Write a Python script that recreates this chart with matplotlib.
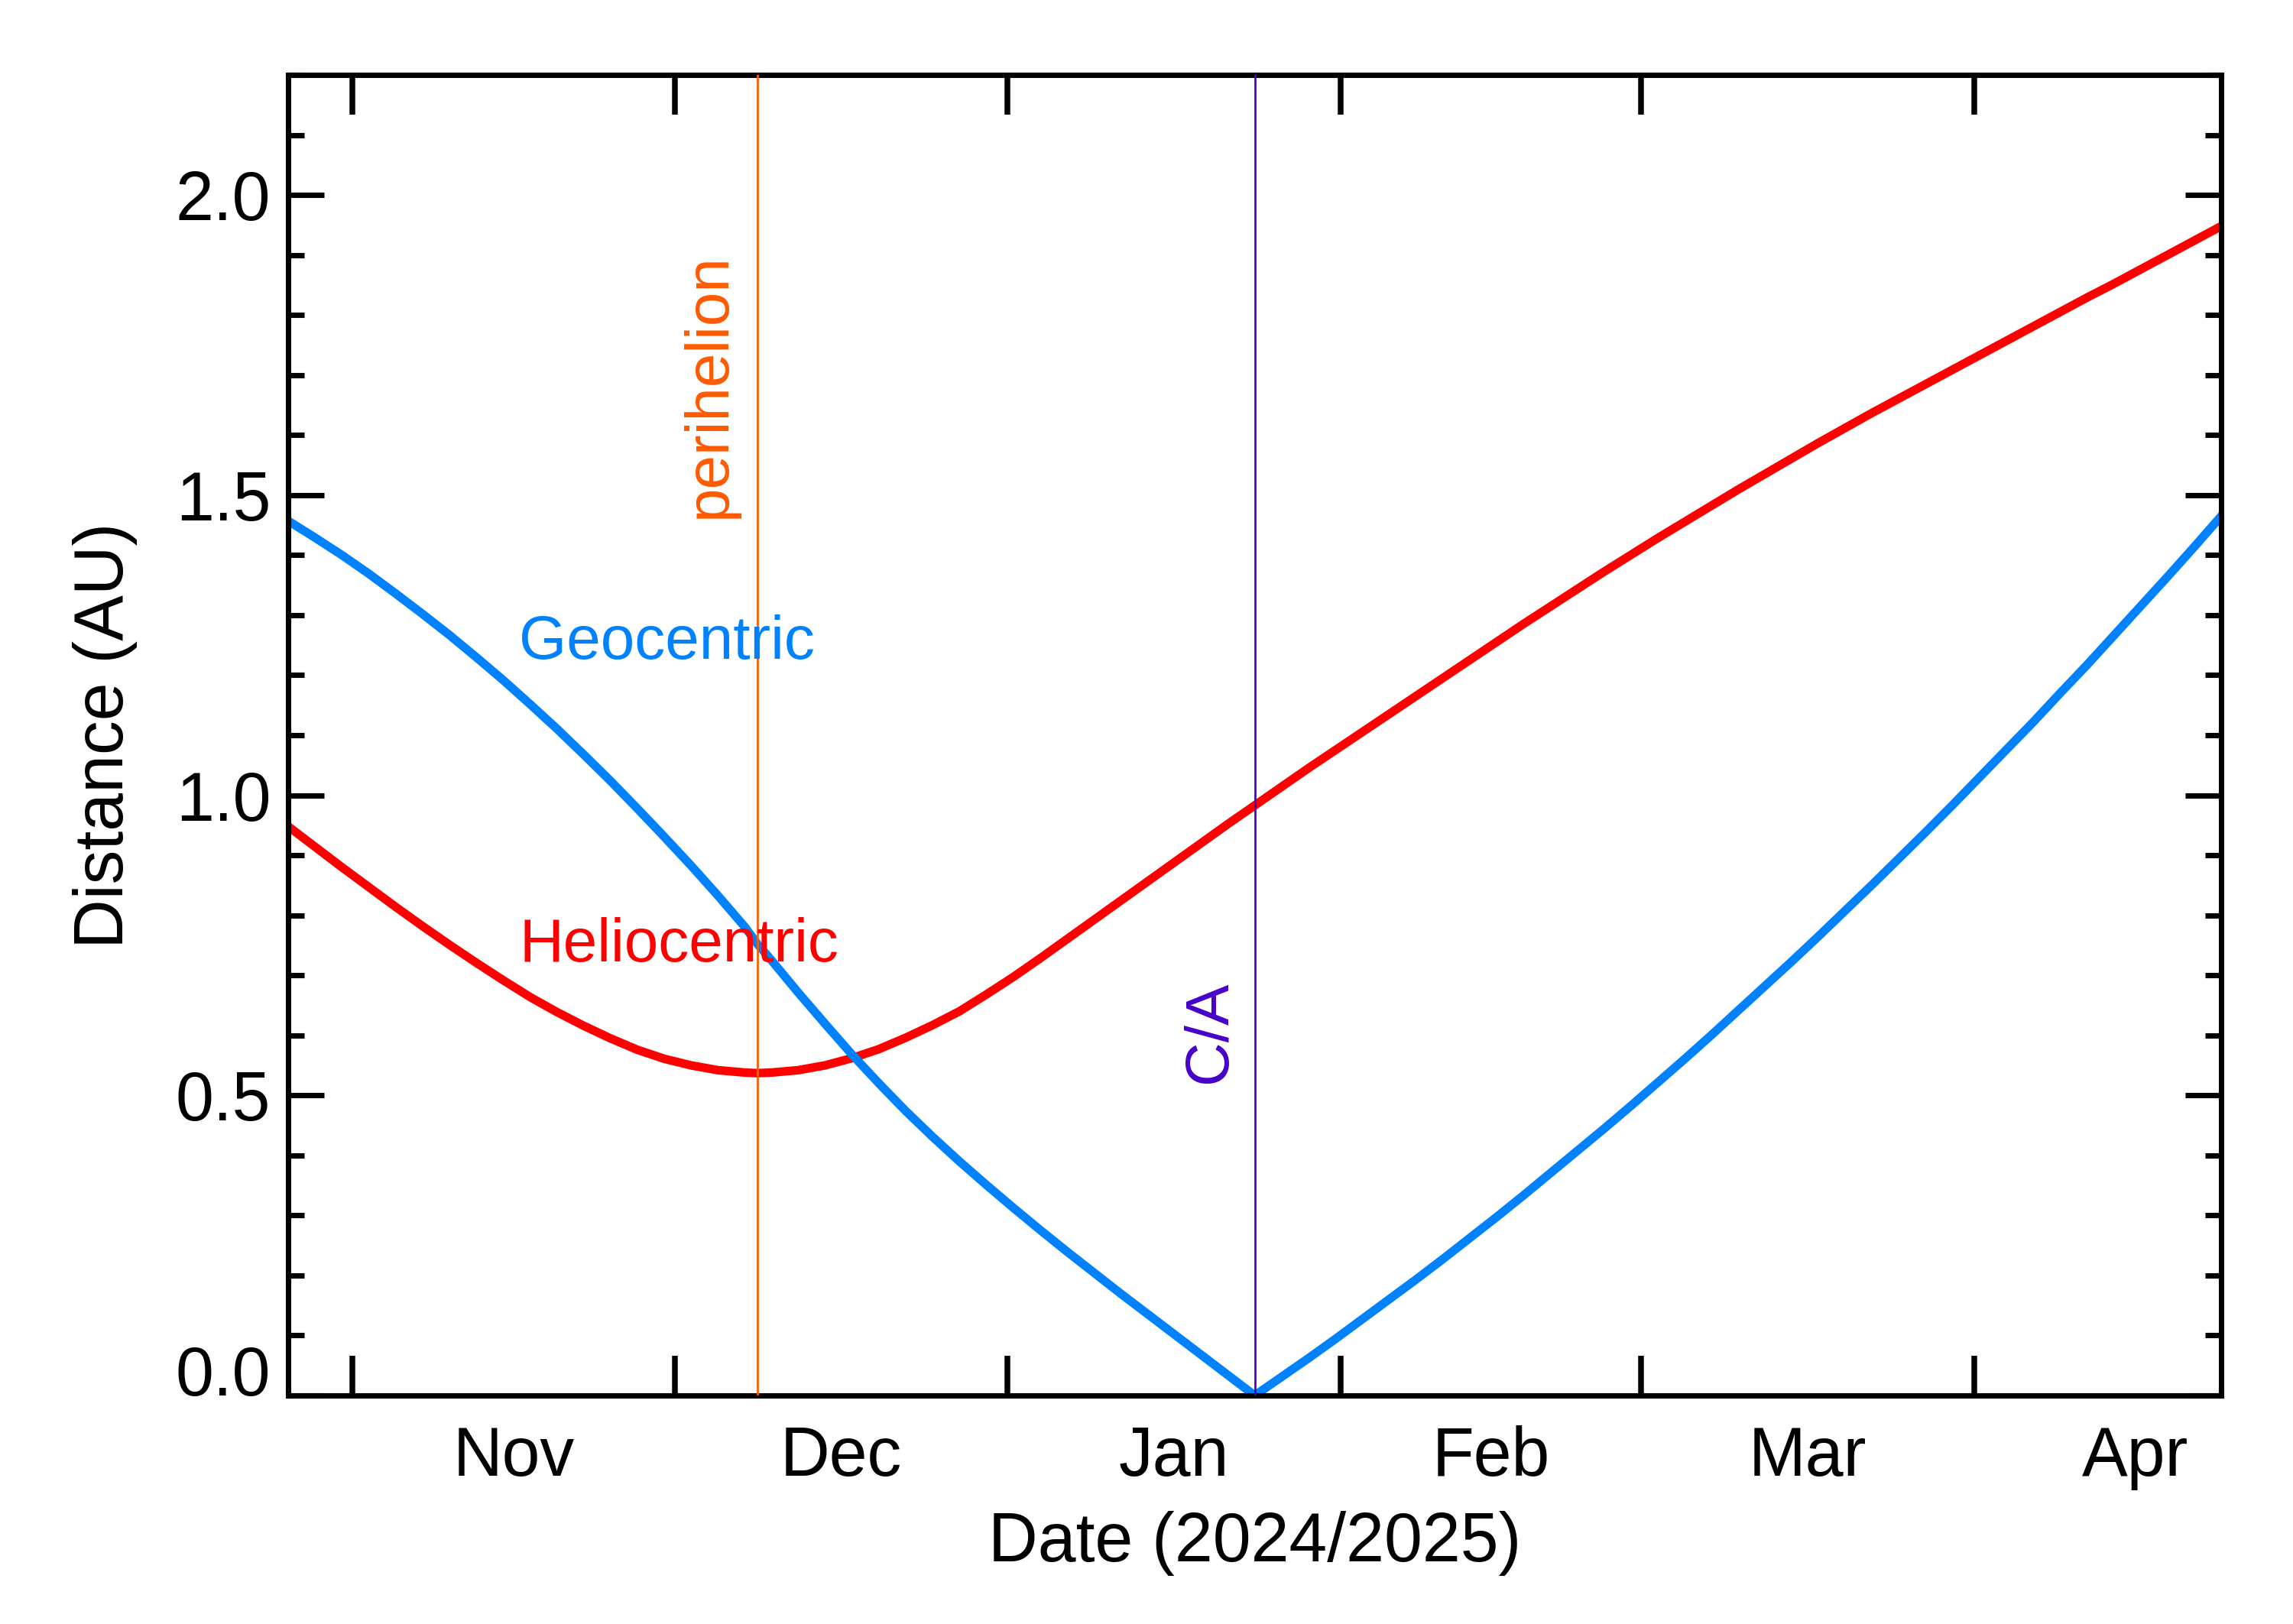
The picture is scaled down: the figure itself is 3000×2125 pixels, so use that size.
import datetime as dt
import matplotlib
matplotlib.use('Agg')
import matplotlib.pyplot as plt
import matplotlib.dates as mdates
import matplotlib.transforms as mtransforms
from matplotlib.ticker import FixedLocator, FixedFormatter, NullFormatter, MultipleLocator, FuncFormatter

plt.rcParams['font.family'] = ['Liberation Sans', 'DejaVu Sans']

# days counted from 2024-10-26
start = dt.datetime(2024, 10, 26)
days = [0, 2.5, 5, 7.5, 10, 12.5, 15, 17.5, 20, 22.5, 25, 27.5, 30, 32.5, 35, 37.5, 40, 42.5,
        43.7, 45, 47.5, 50, 52.5, 55, 57.5, 60, 62.5, 65, 67.5, 70, 72.5, 75, 77.5, 80, 82.5,
        85, 87.5, 90, 92.5, 95, 97.5, 100, 102.5, 105, 107.5, 110, 112.5, 115, 117.5, 120,
        122.5, 125, 127.5, 130, 132.5, 135, 137.5, 140, 142.5, 145, 147.5, 150, 152.5, 155,
        157.5, 160, 162.5, 165, 167.5, 170, 172.5, 175, 177.5, 180]
helio = [0.948, 0.914, 0.880, 0.847, 0.814, 0.782, 0.751, 0.721, 0.692, 0.664, 0.639, 0.616,
         0.595, 0.576, 0.561, 0.550, 0.542, 0.538, 0.537, 0.538, 0.542, 0.550, 0.562, 0.577,
         0.596, 0.617, 0.640, 0.668, 0.697, 0.728, 0.760, 0.792, 0.824, 0.856, 0.888, 0.920,
         0.952, 0.983, 1.014, 1.045, 1.075, 1.105, 1.135, 1.165, 1.195, 1.225, 1.255, 1.285,
         1.314, 1.343, 1.372, 1.400, 1.428, 1.455, 1.482, 1.509, 1.535, 1.561, 1.587, 1.612,
         1.637, 1.661, 1.685, 1.709, 1.733, 1.757, 1.781, 1.805, 1.829, 1.852, 1.876, 1.900,
         1.924, 1.948]
geo = [1.457, 1.429, 1.400, 1.369, 1.336, 1.302, 1.267, 1.230, 1.192, 1.152, 1.111, 1.068,
       1.024, 0.978, 0.931, 0.883, 0.833, 0.781, 0.752, 0.725, 0.671, 0.619, 0.568, 0.520,
       0.474, 0.431, 0.390, 0.351, 0.313, 0.276, 0.240, 0.205, 0.170, 0.136, 0.102, 0.068,
       0.034, 0.000, 0.031, 0.062, 0.094, 0.127, 0.160, 0.193, 0.227, 0.262, 0.297, 0.333,
       0.370, 0.407, 0.444, 0.482, 0.521, 0.560, 0.600, 0.641, 0.682, 0.723, 0.765, 0.808,
       0.851, 0.895, 0.939, 0.984, 1.030, 1.076, 1.122, 1.170, 1.217, 1.266, 1.315, 1.364,
       1.414, 1.465]
perihelion_day = 43.7
approach_day = 90.0
month_starts = [dt.datetime(2024, 11, 1), dt.datetime(2024, 12, 1), dt.datetime(2025, 1, 1),
                dt.datetime(2025, 2, 1), dt.datetime(2025, 3, 1), dt.datetime(2025, 4, 1),
                dt.datetime(2025, 5, 1)]
month_names = ['Nov', 'Dec', 'Jan', 'Feb', 'Mar', 'Apr']

RED = '#FF0000'
BLUE = '#0082FF'
ORANGE = '#FF5A00'
PURPLE = '#4600C8'
LABEL_SIZE = 21.5
NOTE_SIZE = 19.2


def day(d):
    return start + dt.timedelta(days=d)


dates = [day(d) for d in days]

fig = plt.figure(figsize=(10, 2125 / 300), dpi=300)
ax = fig.add_axes([0.1257, 0.1407, 0.843, 0.8132])

ax.plot(dates, helio, color=RED, lw=2.7, solid_joinstyle='round')
ax.plot(dates, geo, color=BLUE, lw=2.7, solid_joinstyle='round')
ax.axvline(day(perihelion_day), color=ORANGE, lw=0.65, zorder=3)
ax.axvline(day(approach_day), color=PURPLE, lw=0.65, zorder=3)

ax.text(day(21.5), 1.227, 'Geocentric', color=BLUE, fontsize=NOTE_SIZE, va='baseline')
ax.text(day(21.5), 0.723, 'Heliocentric', color=RED, fontsize=NOTE_SIZE, va='baseline')
ax.text(day(perihelion_day - 1.8), 1.462, 'perihelion', color=ORANGE, fontsize=NOTE_SIZE,
        rotation=90, ha='right', va='bottom')
ax.text(day(approach_day - 1.5), 0.521, 'C/A', color=PURPLE, fontsize=NOTE_SIZE,
        rotation=90, ha='right', va='bottom')

ax.set_xlim(day(0), day(180))
ax.set_ylim(0, 2.2)

# month boundaries as ticks, names in the middle of each month
starts_num = [mdates.date2num(m) for m in month_starts]
mids = [(a + b) / 2 for a, b in zip(starts_num[:-1], starts_num[1:])]
ax.xaxis.set_major_locator(FixedLocator(starts_num[:-1]))
ax.xaxis.set_major_formatter(NullFormatter())
ax.xaxis.set_minor_locator(FixedLocator(mids))
ax.xaxis.set_minor_formatter(FixedFormatter(month_names))

ax.yaxis.set_major_locator(MultipleLocator(0.5))
ax.yaxis.set_minor_locator(MultipleLocator(0.1))
ax.yaxis.set_major_formatter(FuncFormatter(lambda v, p: '' if abs(v) < 1e-9 else '%.1f' % v))

for s in ax.spines.values():
    s.set_linewidth(1.7)

ax.tick_params(axis='x', which='major', direction='in', length=12.5, width=1.8,
               top=True, bottom=True)
ax.tick_params(axis='x', which='minor', length=0, pad=9.4, labelsize=LABEL_SIZE)
ax.tick_params(axis='y', which='major', direction='in', length=11.3, width=1.7,
               left=True, right=True, labelsize=LABEL_SIZE, pad=5.5)
ax.tick_params(axis='y', which='minor', direction='in', length=5, width=1.7,
               left=True, right=True)

# the 0.0 label sits on the axis line instead of centred on it
zero_trans = ax.get_yaxis_transform() + mtransforms.ScaledTranslation(-5.5 / 72, 0, fig.dpi_scale_trans)
ax.text(0, 0, '0.0', transform=zero_trans, ha='right', va='baseline', fontsize=LABEL_SIZE)

ax.set_xlabel('Date (2024/2025)', fontsize=LABEL_SIZE, labelpad=6.5)
ax.set_ylabel('Distance (AU)', fontsize=LABEL_SIZE, labelpad=12)

fig.savefig('out.png', dpi=300)
